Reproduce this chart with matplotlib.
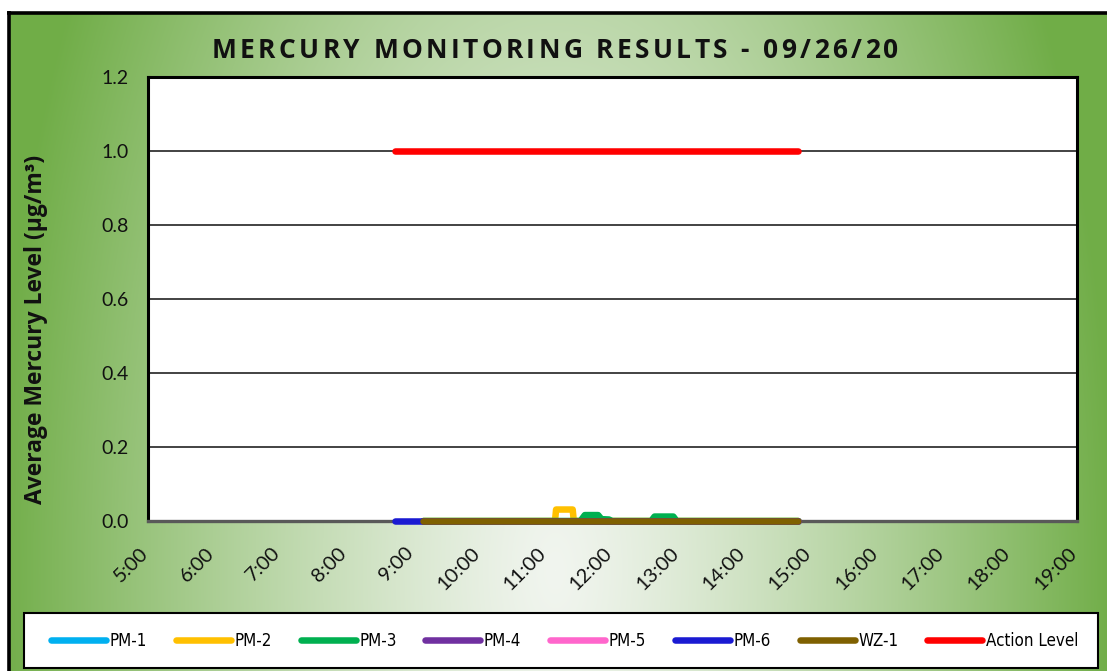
import numpy as np
import matplotlib
matplotlib.use("Agg")
import matplotlib.pyplot as plt
from matplotlib import font_manager
from matplotlib.transforms import ScaledTranslation
from matplotlib.patches import Rectangle

# ---------------- data ----------------
title = "MERCURY MONITORING RESULTS - 09/26/20"
ylabel = "Average Mercury Level (µg/m³)"
hour_ticks = list(range(5, 20))
tick_labels = [f"{h}:00" for h in hour_ticks]

series_names = ["PM-1", "PM-2", "PM-3", "PM-4", "PM-5", "PM-6", "WZ-1", "Action Level"]
series_colors = ["#00B0F0", "#FFC000", "#00B050", "#7030A0", "#FF66CC", "#1A1AD2", "#7F6000", "#FF0000"]

pm1_times = ["9:09", "14:48"]
pm1_vals = [0.0, 0.0]
pm2_times = ["9:09", "11:08", "11:09", "11:24", "11:25", "14:48"]
pm2_vals = [0.0, 0.0, 0.031, 0.031, 0.0, 0.0]
pm3_times = ["9:09", "11:31", "11:35", "11:47", "11:50", "11:57", "11:59", "12:35", "12:38", "12:55", "12:58", "14:48"]
pm3_vals = [0.0, 0.0, 0.016, 0.016, 0.005, 0.004, 0.0, 0.0, 0.012, 0.012, 0.0, 0.0]
pm4_times = ["9:09", "14:48"]
pm4_vals = [0.0, 0.0]
pm5_times = ["9:09", "14:48"]
pm5_vals = [0.0, 0.0]
pm6_times = ["8:43", "14:48"]
pm6_vals = [0.0, 0.0]
wz1_times = ["9:09", "14:48"]
wz1_vals = [0.0, 0.0]
action_times = ["8:43", "14:48"]
action_vals = [1.0, 1.0]

all_times = [pm1_times, pm2_times, pm3_times, pm4_times, pm5_times, pm6_times, wz1_times, action_times]
all_vals = [pm1_vals, pm2_vals, pm3_vals, pm4_vals, pm5_vals, pm6_vals, wz1_vals, action_vals]


def hrs(s):
    h, m = s.split(":")
    return int(h) + int(m) / 60.0


# ---------------- figure ----------------
W, H = 1107, 671
fig = plt.figure(figsize=(W / 100, H / 100), dpi=100)
renderer = fig.canvas.get_renderer()

# background gradient
bg = fig.add_axes([0, 0, 1, 1], zorder=-10)
yy, xx = np.mgrid[0:H, 0:W]
cx, cy = 555, 570
t = np.sqrt(((xx - cx) / 560.0) ** 2 + ((yy - cy) / 1150.0) ** 2)
t = np.clip(t, 0, 1) ** 1.25
c0 = np.array([241, 245, 239]) / 255.0
c1 = np.array([112, 173, 71]) / 255.0
img = c0 + (c1 - c0) * t[..., None]
img[yy < 12] = 1.0
img[xx < 8] = 1.0
bg.imshow(img, extent=(0, W, H, 0), aspect="auto", interpolation="bilinear")
bg.plot([8.5, 8.5], [11, H], color="black", lw=2.6, solid_capstyle="butt")
bg.plot([7, W], [12.5, 12.5], color="black", lw=2.6, solid_capstyle="butt")
bg.add_patch(Rectangle((24, 613), 1098 - 24, 668 - 613, facecolor="white",
                       edgecolor="black", lw=1.5))
bg.set_xlim(0, W)
bg.set_ylim(H, 0)
bg.axis("off")

ax = fig.add_axes([148 / W, 1 - 521 / H, (1077 - 148) / W, (521 - 77) / H])
ax.set_facecolor("white")

for name, color, tt, vv in zip(series_names, series_colors, all_times, all_vals):
    ax.plot([hrs(s) for s in tt], vv, color=color, lw=4.7, label=name,
            solid_capstyle="round", solid_joinstyle="round", clip_on=False, zorder=3)

ax.set_xlim(5, 19)
ax.set_ylim(0, 1.2)
ax.set_yticks(np.arange(0, 1.21, 0.2))
ax.set_yticklabels([f"{v:.1f}" for v in np.arange(0, 1.21, 0.2)])
ax.set_xticks(hour_ticks)
ax.set_xticklabels(tick_labels)
ax.yaxis.grid(True, color="#222222", lw=1.2)
ax.set_axisbelow(True)

ax.tick_params(axis="y", length=0, pad=14, labelcolor="#111111")
ax.tick_params(axis="x", length=0, pad=21, labelcolor="#111111")
for lab in ax.get_yticklabels():
    lab.set_fontfamily(["Lato", "DejaVu Sans"])
    lab.set_fontsize(14)
off = ScaledTranslation(-3 / 100, 0, fig.dpi_scale_trans)
for lab in ax.get_xticklabels():
    lab.set_fontfamily(["Lato", "DejaVu Sans"])
    lab.set_fontsize(14.5)
    lab.set_rotation(45)
    lab.set_ha("right")
    lab.set_va("center")
    lab.set_rotation_mode("anchor")
    lab.set_transform(lab.get_transform() + off)

for side in ["left", "top", "right"]:
    ax.spines[side].set_color("black")
    ax.spines[side].set_linewidth(2.2)
ax.spines["bottom"].set_color("#595959")
ax.spines["bottom"].set_linewidth(2.4)

# letter-spaced title
title_props = dict(fontsize=19, fontweight="bold", family=["Open Sans", "DejaVu Sans"], color="#111111")
def text_width(s, props):
    tx = fig.text(0, 0, s, **props)
    w = tx.get_window_extent(renderer).width
    tx.remove()
    return w
bar_w = text_width("|", title_props)
spacing = 3.4
full_w = text_width(title + "|", title_props) - bar_w + spacing * (len(title) - 1)
x0 = 555 - full_w / 2
for i, ch in enumerate(title):
    if ch == " ":
        continue
    xi = x0 + (text_width(title[:i] + "|", title_props) - bar_w) + spacing * i
    fig.text(xi / W, 1 - 50 / H, ch, ha="left", va="center", **title_props)

fig.text(36 / W, 1 - 329 / H, ylabel, ha="center", va="center", rotation=90,
         fontsize=16.5, fontweight="bold", family=["Open Sans", "DejaVu Sans"], color="#111111")

# legend font: a condensed face, sized so "Action Level" is ~92 px wide
names = {f.name for f in font_manager.fontManager.ttflist}
if "Liberation Sans Narrow" in names:
    leg_props = dict(family="Liberation Sans Narrow")
elif "DejaVu Sans Condensed" in names:
    leg_props = dict(family="DejaVu Sans Condensed")
else:
    leg_props = dict(family="DejaVu Sans", stretch="condensed")
leg_size = 13.0
w_al = text_width("Action Level", dict(fontsize=leg_size, **leg_props))
leg_size = leg_size * 92.0 / w_al

leg = fig.legend(loc="center left", ncol=8,
                 bbox_to_anchor=(51 / W, 1 - 641 / H),
                 frameon=False, handlelength=55 / (leg_size * 1.389), handletextpad=3.5 / (leg_size * 1.389),
                 columnspacing=1.0,
                 borderaxespad=0, borderpad=0,
                 prop=dict(size=leg_size, **leg_props))
# tune column spacing so that entries repeat every ~125 px
fig.canvas.draw()
texts = leg.get_texts()
x_first = texts[0].get_window_extent(renderer).x0
x_last = texts[-1].get_window_extent(renderer).x0
cur = (x_last - x_first) / 7.0
cs = 1.0 + (125.2 - cur) / (leg_size * 1.389)
leg.remove()
leg = fig.legend(loc="center left", ncol=8,
                 bbox_to_anchor=(51 / W, 1 - 641 / H),
                 frameon=False, handlelength=55 / (leg_size * 1.389), handletextpad=3.5 / (leg_size * 1.389),
                 columnspacing=cs,
                 borderaxespad=0, borderpad=0,
                 prop=dict(size=leg_size, **leg_props))

fig.savefig("out.png", dpi=100)
